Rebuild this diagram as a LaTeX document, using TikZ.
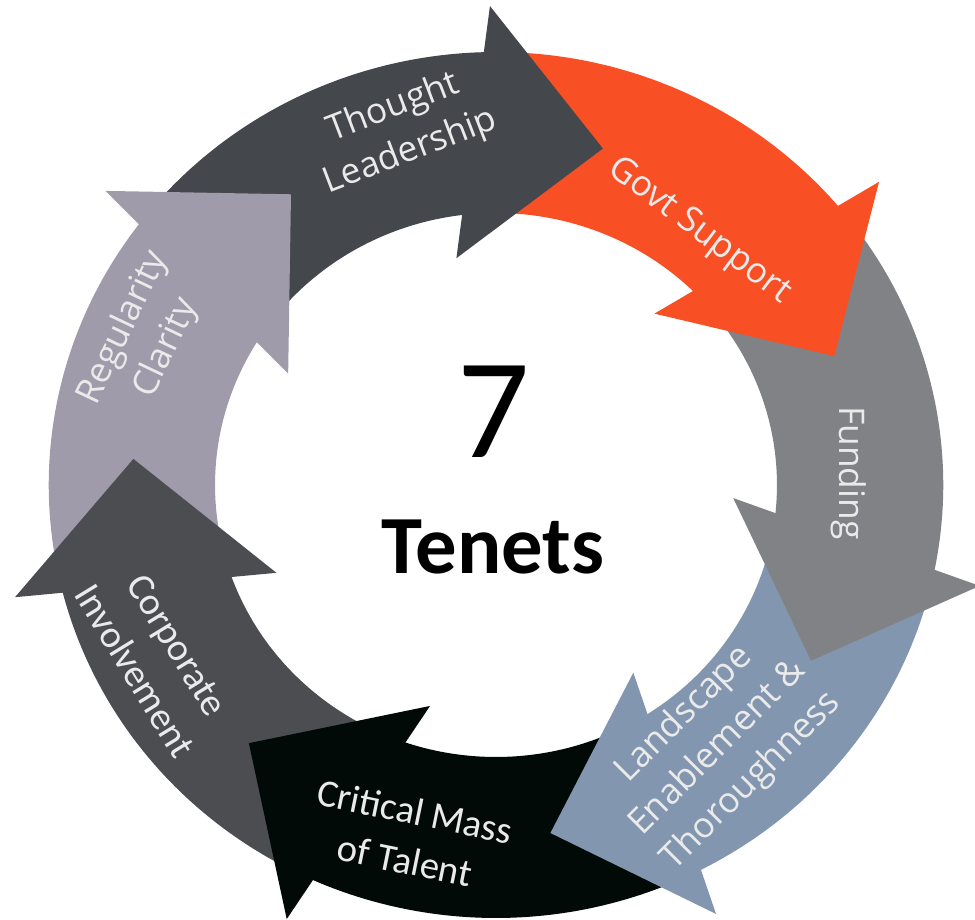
\documentclass[tikz,border=0pt]{standalone}
\usepackage{fontspec}
\setmainfont{Open Sans}
\newfontfamily\calfont{Carlito}
\definecolor{cTL}{HTML}{44474B}
\definecolor{cGS}{HTML}{F94F24}
\definecolor{cFU}{HTML}{818285}
\definecolor{cLA}{HTML}{8396B0}
\definecolor{cCM}{HTML}{020A08}
\definecolor{cCO}{HTML}{4C4D51}
\definecolor{cRE}{HTML}{A09BAA}
\definecolor{lblgray}{HTML}{EAEAEA}
\newcommand{\ringbody}[2]{%
  \pgfmathsetmacro{\angA}{#1+68.4}\pgfmathsetmacro{\angB}{#1+17.0}%
  \pgfmathsetmacro{\angC}{#1+22.5}\pgfmathsetmacro{\angD}{#1+73.4}%
  \fill[#2] plot[domain=\angA:\angB,samples=70] (\x:433) -- plot[domain=\angC:\angD,samples=70] (\x:272) -- cycle;}
\newcommand{\ringhead}[2]{\fill[#2] ({#1+17.8}:479) -- (#1:352) -- ({#1+26.7}:230) -- cycle;}
\tikzset{
  lbl/.style={text=lblgray, align=center, inner sep=0pt, font=\fontsize{26.5}{35.5}\selectfont},
  clbl/.style={text=lblgray, align=center, inner sep=0pt, font=\calfont\fontsize{29}{37.5}\selectfont}
}
\begin{document}
\begin{tikzpicture}[x=0.75pt,y=0.75pt]
\useasboundingbox (0,0) rectangle (975,920);
\begin{scope}[shift={(496,435)},xscale=1.033]
  \ringbody{72.9}{cTL}
  \ringbody{21.47}{cGS}
  \ringbody{-29.96}{cFU}
  \ringbody{-81.39}{cLA}
  \ringbody{-132.82}{cCM}
  \ringbody{-184.25}{cCO}
  \ringbody{-235.68}{cRE}
  \ringhead{72.9}{cTL}
  \ringhead{21.47}{cGS}
  \ringhead{-29.96}{cFU}
  \ringhead{-81.39}{cLA}
  \ringhead{-132.82}{cCM}
  \ringhead{-184.25}{cCO}
  \ringhead{-235.68}{cRE}
\end{scope}
\node[lbl, rotate=21] (tl) at (402,790) {Thought\\Leadership};
\node[lbl, rotate=-37] (gs) at (699,689) {Govt Support};
\node[lbl, rotate=-90] (fu) at (849,447) {Funding};
\node[lbl, rotate=45] (la) at (718,172) {Landscape\\Enablement \&\\Thoroughness};
\node[clbl, rotate=-11.5] (cm) at (410,84) {Critical Mass\\of Talent};
\node[clbl, rotate=-58.5] (co) at (156,262) {Corporate\\Involvement};
\node[lbl, rotate=64.6] (re) at (145,582) {Regularity\\Clarity};
\node[inner sep=0pt, font=\calfont\fontsize{107}{110}\selectfont] (seven) at (494,508) {7};
\node[inner sep=0pt, font=\calfont\bfseries\fontsize{62}{66}\selectfont] (tenets) at (493,373) {Tenets};
\end{tikzpicture}
\end{document}
